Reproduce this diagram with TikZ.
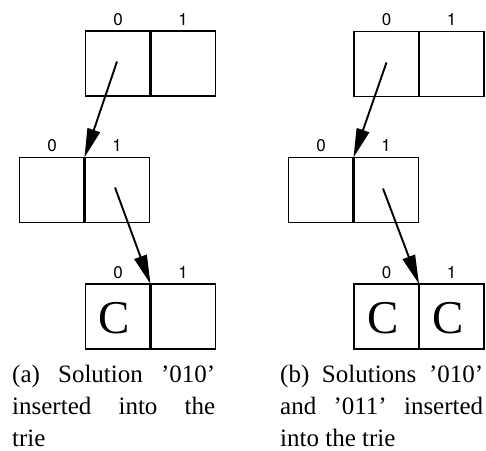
\documentclass[tikz,border=0pt]{standalone}
\usepackage{fontspec}
\setmainfont{Liberation Serif}
\newfontfamily\labfont{TeX Gyre Heros}
\usetikzlibrary{arrows.meta}
\tikzset{
  cell/.style={draw, line width=1.4pt, minimum width=65pt, minimum height=65pt, inner sep=0pt, outer sep=0pt},
  divider/.style={line width=2.8pt},
  lab/.style={font=\labfont\fontsize{17}{20}\selectfont, anchor=base, inner sep=0pt},
  bigC/.style={font=\fontsize{47}{50}\selectfont, inner sep=0pt, xshift=-3.5pt, yshift=-2pt},
  arr/.style={line width=1.9pt, -{Triangle[length=29pt,width=13pt]}, shorten <=0pt},
  captext/.style={text width=203pt, align=justify, font=\fontsize{25}{32}\selectfont, inner sep=0pt, anchor=base west}
}
\begin{document}
\begin{tikzpicture}[x=1pt,y=-1pt]
\useasboundingbox (0,0) rectangle (486,450);
% ---------- left panel ----------
\node[cell] (lt0) at (118,63.5) {};
\node[cell] (lt1) at (183,63.5) {};
\node[cell] (lm0) at (52,190) {};
\node[cell] (lm1) at (117,190) {};
\node[cell] (lb0) at (118,316.5) {};
\node[cell] (lb1) at (183,316.5) {};
% ---------- right panel ----------
\node[cell] (rt0) at (386.5,64) {};
\node[cell] (rt1) at (451.5,64) {};
\node[cell] (rm0) at (321,190) {};
\node[cell] (rm1) at (386,190) {};
\node[cell] (rb0) at (386.5,316.5) {};
\node[cell] (rb1) at (451.5,316.5) {};
% dividers
\foreach \c in {lt0,lm0,lb0,rt0,rm0,rb0}
  \draw[divider] (\c.north east) -- (\c.south east);
% labels
\foreach \c in {lt,lm,lb,rt,rm,rb}{
  \node[lab] at ([yshift=6pt]\c0.north) {0};
  \node[lab] at ([yshift=6pt]\c1.north) {1};
}
% contents
\node[bigC] (ca) at (lb0.center) {C};
\node[bigC] (cb0) at (rb0.center) {C};
\node[bigC] (cb1) at (rb1.center) {C};
% arrows
\draw[arr] ([xshift=-1pt,yshift=2pt]lt0.center) -- (lm0.north east);
\draw[arr] ([xshift=-2pt,yshift=2.5pt]lm1.center) -- (lb0.north east);
\draw[arr] ([yshift=1.5pt]rt0.center) -- (rm0.north east);
\draw[arr] ([xshift=-3pt,yshift=1.5pt]rm1.center) -- (rb0.north east);
% captions
\node[captext] (capa) at (12,382) {(a) Solution '010'\linebreak inserted into the\linebreak trie};
\node[captext] (capb) at (280,382) {(b) Solutions '010'\linebreak and '011' inserted\linebreak into the trie};
\end{tikzpicture}
\end{document}
